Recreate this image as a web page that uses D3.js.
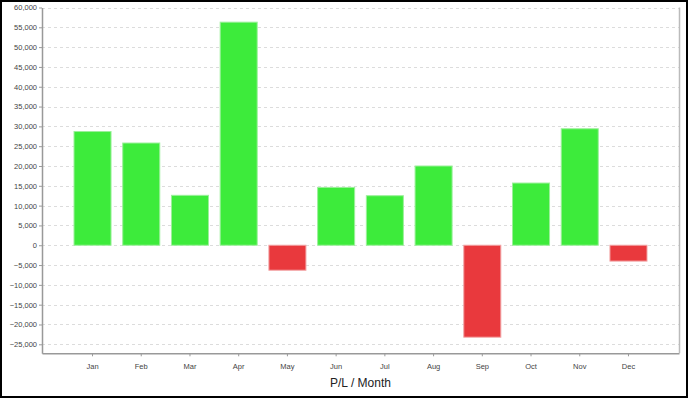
<!DOCTYPE html>
<html>
<head>
<meta charset="utf-8">
<script src="https://cdn.jsdelivr.net/npm/d3@7"></script>
<style>
    body { margin: 0; background: white; }
    #chart { width: 688px; height: 398px; }
    .axis text { font-family: "Liberation Sans", Arial, sans-serif; font-size: 7.5px; fill: #444; }
    .axis path, .axis line { stroke: #999; }
</style>
</head>
<body>
<div id="chart"></div>
<script>
// Monthly profit / loss
var months = ["Jan", "Feb", "Mar", "Apr", "May", "Jun", "Jul", "Aug", "Sep", "Oct", "Nov", "Dec"];
var profitLoss = [28700, 25800, 12600, 56300, -6300, 14600, 12500, 20000, -23200, 15700, 29400, -4000];
var yTicks = [-25000, -20000, -15000, -10000, -5000, 0, 5000, 10000, 15000, 20000, 25000, 30000, 35000, 40000, 45000, 50000, 55000, 60000];
var xTitle = "P/L / Month";

var data = months.map(function (m, i) { return { month: m, value: profitLoss[i] }; });

var width = 688;
var height = 398;
var plot = { left: 42, right: 679, top: 7.5, bottom: 353.3 };

var svg = d3.select("#chart").append("svg")
    .attr("width", width)
    .attr("height", height);

// Outer frame
svg.append("rect")
    .attr("x", 1).attr("y", 1)
    .attr("width", width - 2).attr("height", height - 2)
    .attr("fill", "white")
    .attr("stroke", "black")
    .attr("stroke-width", 2);

var xScale = d3.scaleBand()
    .domain(months)
    .range([plot.left, plot.right])
    .paddingInner(0.24)
    .paddingOuter(0.657);

var yScale = d3.scaleLinear()
    .domain([-27270, 60000])
    .range([plot.bottom, plot.top]);

// Dashed grid lines
svg.append("g")
    .selectAll("line")
    .data(yTicks)
    .enter().append("line")
    .attr("x1", plot.left)
    .attr("x2", plot.right)
    .attr("y1", d => Math.round(yScale(d)) + 0.5)
    .attr("y2", d => Math.round(yScale(d)) + 0.5)
    .attr("stroke", "#dcdcdc")
    .attr("stroke-dasharray", "3,3");

// Bars
svg.append("g")
    .selectAll("rect")
    .data(data)
    .enter().append("rect")
    .attr("x", d => xScale(d.month))
    .attr("y", d => yScale(Math.max(0, d.value)))
    .attr("width", xScale.bandwidth())
    .attr("height", d => Math.abs(yScale(d.value) - yScale(0)))
    .attr("fill", d => d.value >= 0 ? "#3deb3b" : "#e9393d")
    .attr("stroke", d => d.value >= 0 ? "#9cf09b" : "#f2a3a4")
    .attr("stroke-width", 1);

// Right border of the plot
svg.append("line")
    .attr("x1", plot.right + 0.5).attr("x2", plot.right + 0.5)
    .attr("y1", plot.top).attr("y2", plot.bottom)
    .attr("stroke", "#bbb")
    .attr("stroke-width", 1.5);

// Axes
var yAxis = d3.axisLeft(yScale)
    .tickValues(yTicks)
    .tickSize(3)
    .tickPadding(2)
    .tickSizeOuter(0)
    .tickFormat(d3.format(",d"));

var xAxis = d3.axisBottom(xScale)
    .tickSize(3)
    .tickPadding(7)
    .tickSizeOuter(0);

svg.append("g")
    .attr("class", "y axis")
    .attr("transform", "translate(" + plot.left + ",0)")
    .call(yAxis);

svg.append("g")
    .attr("class", "x axis")
    .attr("transform", "translate(0," + plot.bottom + ")")
    .call(xAxis);

svg.selectAll(".axis .domain").attr("stroke-width", 1.5);

// Axis title
svg.append("text")
    .attr("x", (plot.left + plot.right) / 2)
    .attr("y", 387)
    .attr("text-anchor", "middle")
    .style("font-family", "'Liberation Sans', Arial, sans-serif")
    .style("font-size", "12px")
    .style("fill", "#222")
    .text(xTitle);
</script>
</body>
</html>
